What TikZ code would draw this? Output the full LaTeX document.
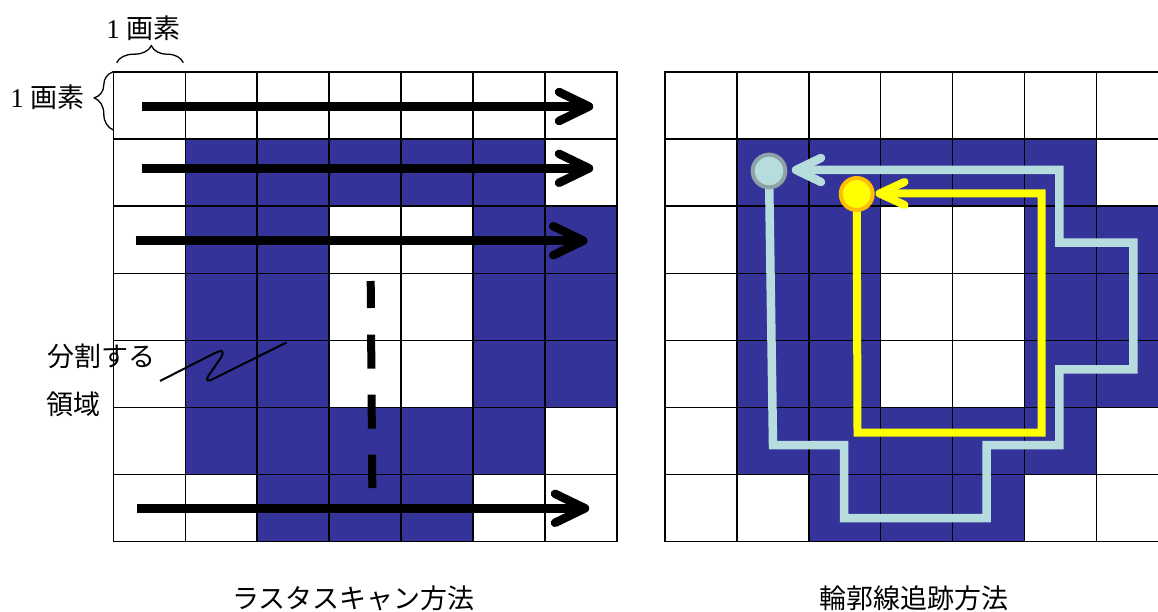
\documentclass[tikz,border=0pt]{standalone}
\usepackage{fontspec}
\setmainfont{Liberation Serif}
\newfontfamily\cjk{Noto Sans CJK JP}
\usetikzlibrary{decorations.pathreplacing}
\definecolor{cellblue}{HTML}{333399}
\definecolor{trace}{HTML}{B7DCDE}
\definecolor{traceedge}{HTML}{8FA2A5}
\definecolor{ytrace}{HTML}{FFFF00}
\definecolor{yedge}{HTML}{FFBF00}
\begin{document}
\begin{tikzpicture}[x=1pt,y=-1pt,
  gridline/.style={line width=1.6pt, black, line cap=rect},
  cellfill/.style={fill=cellblue},
  lbl/.style={inner sep=0pt, font=\fontsize{27}{32}\selectfont},
  scanline/.style={line width=8.5pt, black},
  chevron/.style={line width=8.5pt, black, line cap=round, line join=round},
  dashline/.style={line width=8pt, black, dash pattern={on 27pt off 26.6pt on 34pt off 26pt on 34pt off 26pt on 34pt off 26pt}},
  bracestyle/.style={line width=1.3pt, black, decorate},
  outertrace/.style={line width=8.5pt, trace},
  outerchev/.style={line width=8.5pt, trace, line cap=round, line join=round},
  innertrace/.style={line width=8pt, ytrace},
  innerchev/.style={line width=8pt, ytrace, line cap=round, line join=round},
  dotstyle/.style={circle, inner sep=0pt, line width=4pt}
]
\useasboundingbox (0,0) rectangle (1158,612);
\clip (0,0) rectangle (1158,612);

% grids
\foreach \gx in {113.5, 665} {
  \begin{scope}[shift={(\gx,72.3)}, x=71.886pt, y=-67pt]
    \foreach \c/\r in {1/1,2/1,3/1,4/1,5/1, 1/2,2/2,5/2,6/2, 1/3,2/3,5/3,6/3,
                       1/4,2/4,5/4,6/4, 1/5,2/5,3/5,4/5,5/5, 2/6,3/6,4/6}
      \fill[cellfill] (\c,\r) rectangle ++(1,1);
    \foreach \i in {0,...,7} {
      \draw[gridline] (\i,0) -- (\i,7);
      \draw[gridline] (0,\i) -- (7,\i);
    }
  \end{scope}
}

% labels
\node[lbl] (toplbl) at (143.5,28) {1 {\cjk 画素}};
\node[lbl] (leftlbl) at (47.5,97.5) {1 {\cjk 画素}};
\node[lbl] (bunkatsu) at (101,356.5) {\cjk 分割する};
\node[lbl] (ryoiki) at (73.5,404) {\cjk 領域};
\node[lbl] (cap1) at (353.5,598.5) {\cjk ラスタスキャン方法};
\node[lbl] (cap2) at (913.5,598.5) {\cjk 輪郭線追跡方法};

% braces
\coordinate (tb1) at (116.7,62.7); \coordinate (tb2) at (183.3,62.7);
\draw[bracestyle, decoration={brace, amplitude=17pt, aspect=0.52}] (tb1) -- (tb2);
\coordinate (lb1) at (113.3,130); \coordinate (lb2) at (113.3,71.7);
\draw[bracestyle, decoration={brace, amplitude=19pt, aspect=0.55}] (lb1) -- (lb2);

% zigzag pointer
\coordinate (zz1) at (160,381); \coordinate (zz2) at (286.5,342.5);
\draw[line width=2pt, black, line join=round] (zz1) -- (214,353.5)
  .. controls (222,349.5) and (226,350) .. (220,359) -- (209,375)
  .. controls (205,381) and (207,382) .. (213,379) -- (zz2);

% raster scan arrows
\coordinate (a1s) at (142,106.5);   \coordinate (a1e) at (589,106.5);
\coordinate (a2s) at (142,168.3);   \coordinate (a2e) at (589,168.3);
\coordinate (a3s) at (135.5,240.7); \coordinate (a3e) at (583.3,240.7);
\coordinate (a4s) at (136.5,508.3); \coordinate (a4e) at (585,508.3);
\foreach \k in {1,2,3,4} {
  \draw[scanline] (a\k s) -- (a\k e);
  \draw[chevron] (a\k e) ++(-30,-14.5) -- (a\k e) -- ++(-30,14.5);
}
\coordinate (d1) at (370.7,281); \coordinate (d2) at (372.3,488);
\draw[dashline] (d1) -- (d2);

% contour tracing
\node[dotstyle, minimum size=32.7pt] (gdot) at (769,171) {};
\node[dotstyle, minimum size=32pt] (ydot) at (856.7,194) {};
\coordinate (gtip) at (796,170);
\coordinate (ytip) at (879.5,193.5);
\draw[outertrace] (gdot.center) -- (773,445) -- (844,445) -- (844,518) -- (986.7,518)
  -- (986.7,445) -- (1059.3,445) -- (1059.3,369.3) -- (1133.3,369.3) -- (1133.3,242.7)
  -- (1059.3,242.7) -- (1059.3,170) -- (gtip);
\draw[outerchev] (gtip) ++(25,-12) -- (gtip) -- ++(25,12);
\draw[innertrace] (ydot.center) -- (857.5,432.7) -- (1041.7,432.7) -- (1041.7,193.5) -- (ytip);
\draw[innerchev] (ytip) ++(25,-11.5) -- (ytip) -- ++(25,11.5);
\draw[traceedge, fill=trace, line width=4pt] (gdot.center) circle[radius=16.35pt];
\draw[yedge, fill=ytrace, line width=4pt] (ydot.center) circle[radius=16pt];
\end{tikzpicture}
\end{document}
